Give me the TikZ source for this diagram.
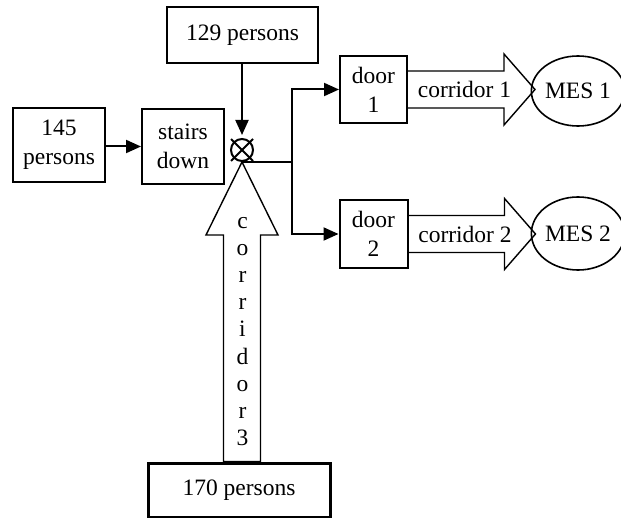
\documentclass[tikz,border=0pt]{standalone}
\usepackage{fontspec}
\setmainfont{Liberation Serif}
\usetikzlibrary{arrows.meta,calc,shapes.geometric}
\begin{document}
\begin{tikzpicture}[x=0.5pt,y=-0.5pt,
    every node/.style={font=\fontsize{11.75}{14.5}\selectfont},
    box/.style={draw,line width=1pt,align=center,inner sep=0pt},
    corr/.style={draw,line width=0.7pt,line join=miter},
    flow/.style={line width=1pt,-{Triangle[length=7.5pt,width=6.5pt]}}]
  \useasboundingbox (0,0) rectangle (621,518);
  % sources and stairs
  \node[box,minimum width=75.5pt,minimum height=28pt] (p129) at (242.5,35) {129 persons};
  \node[box,minimum width=46pt,minimum height=37pt] (p145) at (59,145) {145\\persons};
  \node[box,minimum width=41pt,minimum height=37.5pt] (stairs) at (183,146.5) {stairs\\down};
  \node[box,line width=1.5pt,minimum width=91pt,minimum height=27pt] (p170) at (239,490) {170 persons};
  % junction
  \node[circle,draw,line width=1pt,minimum size=11pt,inner sep=0pt] (jn) at (242,150) {};
  \draw[line width=1pt] ($(jn)+(-11,-11)$) -- ($(jn)+(11,11)$);
  \draw[line width=1pt] ($(jn)+(-11,11)$) -- ($(jn)+(11,-11)$);
  % doors and exits
  \node[box,minimum width=33.5pt,minimum height=33.5pt] (door1) at (373.5,89.5) {door\\1};
  \node[box,minimum width=34pt,minimum height=34pt] (door2) at (373.5,234) {door\\2};
  \node[ellipse,draw,line width=0.8pt,minimum width=42pt,minimum height=35pt,inner sep=0pt] (mes1) at (578,91) {MES 1};
  \node[ellipse,draw,line width=0.8pt,minimum width=42pt,minimum height=36.5pt,inner sep=0pt] (mes2) at (578,233.5) {MES 2};
  % flows
  \draw[flow] (p145.east |- stairs) -- (stairs.west);
  \draw[flow] (p129.south -| jn) -- ($(jn.north)+(0,-3)$);
  \draw[line width=1pt] (jn.south) -- ++(50,0) coordinate (split);
  \draw[flow] (split) |- (door1.west);
  \draw[flow] (split) |- (door2.west);
  % corridors
  \draw[corr] ($(door1.east)+(0,-18.5)$) -- ++(96,0) -- ++(0,-17) -- ++(31,35.5) -- ++(-31,35.5) -- ++(0,-17) -- ++(-96,0);
  \node (c1) at ($(door1.east)+(56.5,0)$) {corridor 1};
  \draw[corr] ($(door2.east)+(0,-18.5)$) -- ++(96,0) -- ++(0,-17) -- ++(31,35.5) -- ++(-31,35.5) -- ++(0,-17) -- ++(-96,0);
  \node (c2) at ($(door2.east)+(56.5,0)$) {corridor 2};
  \draw[corr] (jn.south) -- ++(36,73) -- ++(-17.5,0) coordinate (c3r) -- (c3r |- p170.north)
    -- ++(-37,0) coordinate (c3l) -- (c3l |- c3r) -- ++(-17.5,0) -- cycle;
  \node[align=center,font=\fontsize{11.75}{13.55}\selectfont] (c3) at (242.5,331.5) {c\\o\\r\\r\\i\\d\\o\\r\\3};
\end{tikzpicture}
\end{document}
